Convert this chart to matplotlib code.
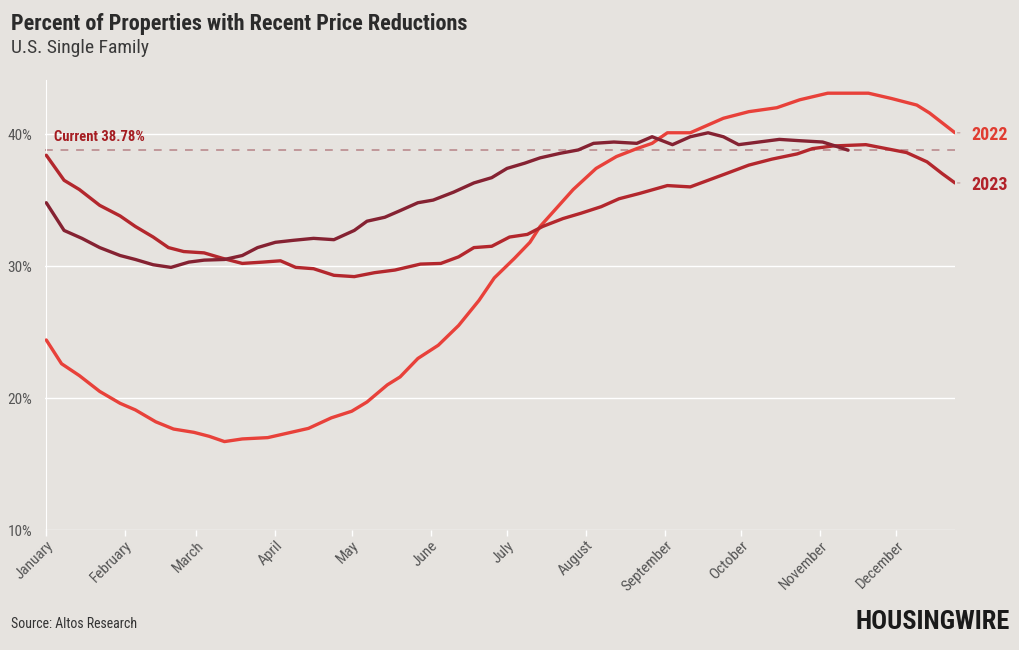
import numpy as np
import matplotlib.pyplot as plt

# day of year / percent with recent price reductions
days_2022 = [0, 6, 13, 21, 29, 35, 43, 50, 58, 64, 70, 77, 87, 95, 103, 112, 120, 126, 134, 139,
             146, 154, 162, 170, 176, 184, 190, 194, 207, 216, 224, 232, 238, 244, 253, 266, 276, 287, 296, 307,
             323, 332, 342, 347, 357]
vals_2022 = [24.4, 22.6, 21.7, 20.5, 19.6, 19.1, 18.2, 17.65, 17.4, 17.1, 16.7, 16.9, 17.0, 17.35, 17.7, 18.5, 19.0, 19.7, 21.0, 21.6,
             23.0, 24.0, 25.5, 27.4, 29.1, 30.6, 31.8, 33.0, 35.8, 37.4, 38.3, 38.9, 39.3, 40.1, 40.1, 41.2, 41.7, 42.0, 42.6, 43.1,
             43.1, 42.7, 42.2, 41.6, 40.1]

days_2023 = [0, 7, 13, 21, 29, 35, 42, 48, 54, 62, 69, 77, 85, 92, 98, 105, 113, 121, 129, 137,
             147, 155, 162, 168, 175, 182, 189, 195, 203, 210, 218, 225, 233, 244, 253, 260, 267, 276, 285, 295,
             301, 309, 322, 330, 338, 346, 352, 357]
vals_2023 = [38.4, 36.5, 35.8, 34.6, 33.8, 33.0, 32.2, 31.4, 31.1, 31.0, 30.6, 30.2, 30.3, 30.4, 29.9, 29.8, 29.3, 29.2, 29.5, 29.7,
             30.15, 30.2, 30.7, 31.4, 31.5, 32.2, 32.4, 33.0, 33.6, 34.0, 34.5, 35.1, 35.5, 36.1, 36.0, 36.5, 37.0, 37.65, 38.1, 38.5,
             38.9, 39.1, 39.2, 38.9, 38.6, 37.9, 37.0, 36.3]

days_2024 = [0, 7, 14, 21, 29, 35, 42, 49, 56, 62, 70, 77, 83, 90, 97, 105, 113, 121, 126, 133,
             139, 146, 152, 160, 168, 175, 181, 188, 194, 202, 209, 215, 223, 232, 238, 246, 253, 260, 266, 272,
             280, 288, 296, 305, 310, 315]
vals_2024 = [34.8, 32.7, 32.1, 31.4, 30.8, 30.5, 30.1, 29.9, 30.3, 30.45, 30.5, 30.8, 31.4, 31.8, 31.95, 32.1, 32.0, 32.7, 33.4, 33.7,
             34.2, 34.8, 35.0, 35.6, 36.3, 36.7, 37.4, 37.8, 38.2, 38.55, 38.8, 39.3, 39.4, 39.3, 39.8, 39.2, 39.8, 40.1, 39.8, 39.2,
             39.4, 39.6, 39.5, 39.4, 39.1, 38.78]

current = 38.78
months = ['January', 'February', 'March', 'April', 'May', 'June', 'July',
          'August', 'September', 'October', 'November', 'December']
month_days = [0, 31, 59, 90, 120, 151, 181, 212, 243, 273, 304, 334]
yticks = [10, 20, 30, 40]

bg = '#e6e3df'
c22 = '#e8413a'
c23 = '#b3272d'
c24 = '#852232'

plt.rcParams['font.family'] = ['Roboto Condensed', 'Liberation Sans Narrow', 'Roboto', 'DejaVu Sans']

fig = plt.figure(figsize=(10.2, 6.5), dpi=100, facecolor=bg)
ax = fig.add_axes([45 / 1020, 1 - 530 / 650, 910 / 1020, 450 / 650])
ax.set_facecolor(bg)

ax.plot(days_2022, vals_2022, color=c22, lw=2.4, solid_capstyle='round', zorder=3)
ax.plot(days_2023, vals_2023, color=c23, lw=2.4, solid_capstyle='round', zorder=3)
ax.plot(days_2024, vals_2024, color=c24, lw=2.4, solid_capstyle='round', zorder=4)

ax.axhline(current, color='#c0979a', lw=1.4, ls=(0, (4, 4)), zorder=2)
ax.text(3, current + 0.5, f'Current {current:.2f}%', color='#a51d22', fontsize=10.5,
        fontweight='bold', ha='left', va='bottom')

ax.set_xlim(-0.5, 357)
ax.set_ylim(10, 44.1)
ax.set_yticks(yticks)
ax.set_yticklabels([f'{v}%' for v in yticks])
ax.set_xticks(month_days)
ax.set_xticklabels(months, rotation=45, ha='right', rotation_mode='anchor')
ax.tick_params(axis='both', colors='white', labelcolor='#555555', labelsize=11, length=4, width=1)
ax.tick_params(axis='y', length=0, pad=10)
ax.tick_params(axis='x', pad=2)
ax.grid(axis='y', color='white', lw=1)
for s in ['top', 'right', 'bottom']:
    ax.spines[s].set_visible(False)
ax.spines['left'].set_color('white')
ax.spines['left'].set_position(('data', 0))

# end labels
for v, lab, col in [(vals_2022[-1], '2022', '#e03c31'), (vals_2023[-1], '2023', '#b22229')]:
    ax.annotate(lab, xy=(days_2022[-1], v - 0.15), xytext=(12, 0), textcoords='offset points',
                color=col, fontsize=13, fontweight='bold', va='center', ha='left',
                annotation_clip=False)
    ax.annotate('', xy=(days_2022[-1] + 1, v), xytext=(days_2022[-1] + 3, v),
                arrowprops=dict(arrowstyle='-', color='#c9a6a6', lw=1), annotation_clip=False)

fig.text(11 / 1020, 1 - 24 / 650, 'Percent of Properties with Recent Price Reductions',
         fontsize=16, fontweight='bold', color='#2b2b2b', va='center', ha='left')
fig.text(11 / 1020, 1 - 48 / 650, 'U.S. Single Family', fontsize=14, color='#3a3a3a',
         va='center', ha='left')
fig.text(11 / 1020, 1 - 624 / 650, 'Source: Altos Research', fontsize=10, color='#333333',
         va='center', ha='left')
fig.text(1010 / 1020, 1 - 622 / 650, 'HOUSINGWIRE', fontsize=19, fontweight='heavy',
         color='#1a1a1a', va='center', ha='right')

fig.savefig('out.png', dpi=100, facecolor=bg)
